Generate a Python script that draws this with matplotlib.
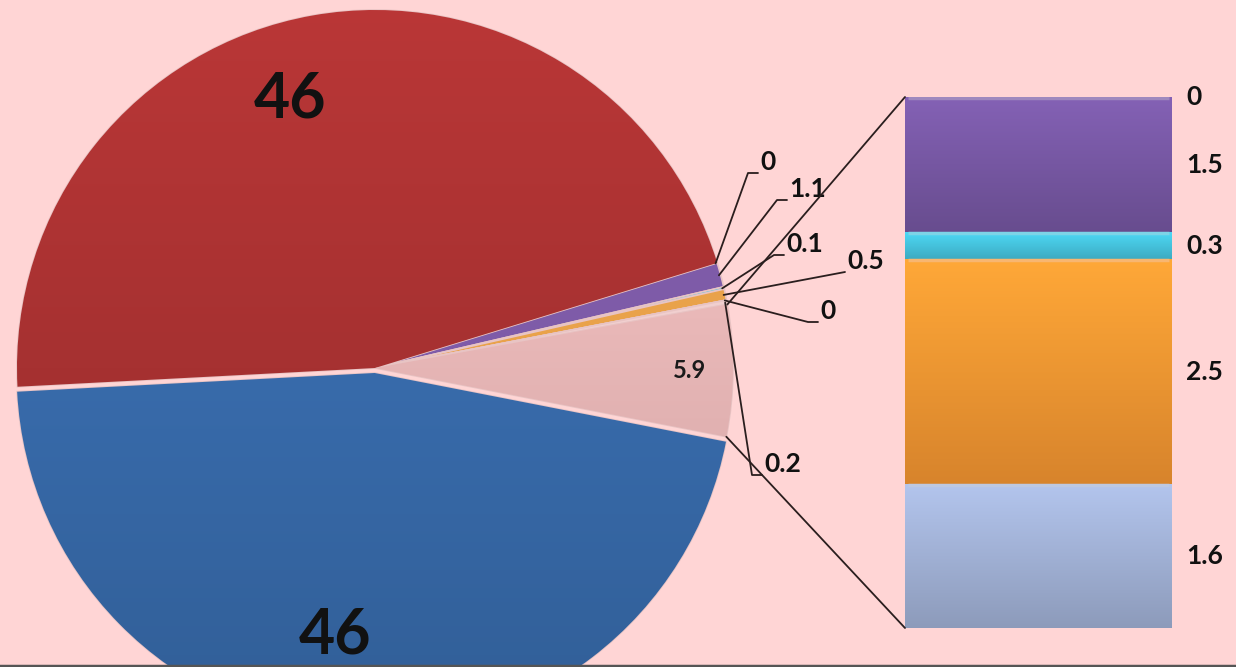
import matplotlib
matplotlib.use('Agg')
import matplotlib.pyplot as plt
import numpy as np
from matplotlib.patches import ConnectionPatch
from matplotlib.colors import to_rgb

plt.rcParams['font.family'] = ['Lato', 'DejaVu Sans']

# ---- data ----
pie_labels = ['46', '0', '1.1', '0.1', '0.5', '0', '0.2', '5.9', '46']
pie_values = [46, 0, 1.1, 0.1, 0.5, 0, 0.2, 5.9, 46]
pie_colors = ['#A63131', '#7E5BA8', '#7E5BA8', '#4BC6DE', '#E9A24A',
              '#F3D6CC', '#F1CFCF', '#E8B5B5', '#386BAB']

bar_labels = ['1.6', '2.5', '0.3', '1.5', '0']   # bottom to top
bar_values = [1.6, 2.5, 0.3, 1.5, 0]
bar_colors = ['#A0B0D4', '#F59632', '#45C2DC', '#7657A2', '#7657A2']

BG = '#FFD5D5'
W, H = 1236, 667
WEIGHT = 'bold'
fig = plt.figure(figsize=(W / 100, H / 100), dpi=100, facecolor=BG)
ax = fig.add_axes([0, 0, 1, 1])
ax.set_facecolor(BG)


def scale(c, f):
    return np.clip(np.array(to_rgb(c)) * f, 0, 1)


def gradient(a, extent, c_top, c_bot, clip, z):
    t = np.linspace(0, 1, 256)[:, None, None]
    img = (1 - t) * np.array(c_bot)[None, None, :] + t * np.array(c_top)[None, None, :]
    im = a.imshow(img, extent=extent, origin='lower', aspect='auto',
                  interpolation='bilinear', zorder=z)
    im.set_clip_path(clip)


cx, cy, R = 375, H - 368, 358
explode = [0] * len(pie_values)
explode[-1] = 5
wedges, _ = ax.pie(pie_values, colors=pie_colors, startangle=183, counterclock=False,
                   center=(cx, cy), radius=R, explode=explode,
                   wedgeprops=dict(edgecolor='#E8C4C4', linewidth=1.2))
for w, v, c in zip(wedges, pie_values, pie_colors):
    if v >= 5:
        x0, y0 = w.center
        gradient(ax, (x0 - R - 5, x0 + R + 5, y0 - R - 5, y0 + R + 5),
                 scale(c, 1.12), scale(c, 0.88), w, 1.05)
ax.set_xlim(0, W)
ax.set_ylim(0, H)
ax.set_aspect('equal')
ax.axis('off')


def edge_point(w, ang, frac=1.0):
    x0, y0 = w.center
    a = np.deg2rad(ang)
    return x0 + w.r * frac * np.cos(a), y0 + w.r * frac * np.sin(a)


def mid_point(w, frac=1.0):
    return edge_point(w, 0.5 * (w.theta1 + w.theta2), frac)


# big labels
ax.text(290, H - 100, pie_labels[0], fontsize=45, fontweight=WEIGHT, ha='center', va='center', color='#111111', zorder=5)
ax.text(335, H - 635, pie_labels[-1], fontsize=45, fontweight=WEIGHT, ha='center', va='center', color='#111111', zorder=5)
# 5.9 label inside pink slice
px, py = mid_point(wedges[7], 0.88)
ax.text(px, py, pie_labels[7], fontsize=17, fontweight=WEIGHT, ha='center', va='center', color='#1A1A1A', zorder=5)

# small labels with leader lines: (index, elbow x, elbow y(px), text x)
leader_layout = [(1, 748, 173, 758), (2, 777, 200, 787), (3, 774, 255, 784),
                 (4, 845, 272, 845), (5, 808, 322, 818), (6, 752, 475, 762)]
for idx, ex, ey, tx in leader_layout:
    w = wedges[idx]
    sx, sy = mid_point(w, 0.995)
    ey_d = H - ey
    ax.plot([sx, ex, tx], [sy, ey_d, ey_d], color='#2A1E1E', lw=1.3,
            solid_capstyle='round', zorder=4)
    ax.text(tx + 2, ey_d + 11, pie_labels[idx], fontsize=19, fontweight=WEIGHT,
            ha='left', va='center', color='#111111', zorder=5)

# bar of the "other" slice
l, r_, top, bot = 905, 1172, 97, 628
ax2 = fig.add_axes([l / W, (H - bot) / H, (r_ - l) / W, (bot - top) / H])
ax2.set_xlim(-0.5, 0.5)
ax2.set_ylim(0, sum(bar_values))
ax2.axis('off')
bottoms = np.concatenate([[0], np.cumsum(bar_values)[:-1]])
bars = ax2.bar(0, bar_values, bottom=bottoms, width=1.0, color=bar_colors,
               edgecolor='#7D6E80', linewidth=1.0)
for rect, v, b, c in zip(bars, bar_values, bottoms, bar_colors):
    if v > 0:
        gradient(ax2, (-0.5, 0.5, b, b + v), scale(c, 1.12), scale(c, 0.88), rect, 1.05)
        # thin highlight on top edge
        hl = np.clip(np.array(to_rgb(c)) + 0.3 * (1 - np.array(to_rgb(c))), 0, 1)
        ax2.plot([-0.49, 0.49], [b + v - 0.012, b + v - 0.012], color=hl,
                 lw=2.5, zorder=1.1, solid_capstyle='butt')
ax2.set_xlim(-0.5, 0.5)
ax2.set_ylim(0, sum(bar_values))
for v, b, lab in zip(bar_values, bottoms, bar_labels):
    yy = b + v / 2 if v > 0 else b
    ax2.annotate(lab, xy=(0.5, yy), xytext=(10, 0), textcoords='offset points',
                 fontsize=19, fontweight=WEIGHT, ha='left', va='center', color='#111111',
                 annotation_clip=False)

# connector lines from "other" slice to the bar
pw = wedges[7]
t_hi, t_lo = max(pw.theta1, pw.theta2), min(pw.theta1, pw.theta2)
for ang, yb in [(t_hi, sum(bar_values)), (t_lo, 0)]:
    con = ConnectionPatch(xyA=edge_point(pw, ang), coordsA=ax.transData,
                          xyB=(-0.5, yb), coordsB=ax2.transData,
                          color='#2A1E1E', lw=1.3)
    fig.add_artist(con)

# bottom border line
ax.plot([0, W], [1.5, 1.5], color='#555555', lw=2.5)

fig.savefig('out.png', dpi=100, facecolor=BG)
